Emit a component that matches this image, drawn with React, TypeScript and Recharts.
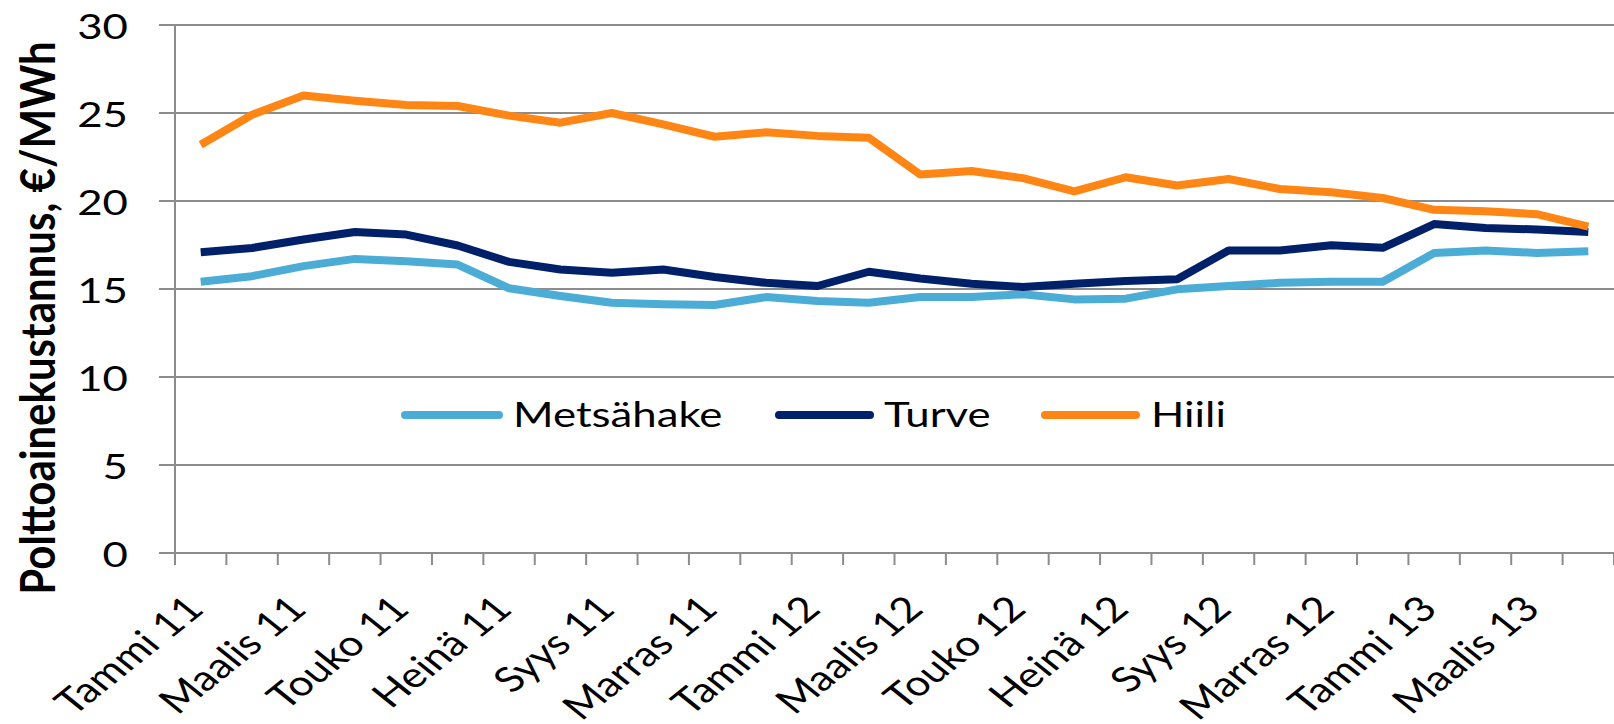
import React from 'react';
import { LineChart, Line, XAxis, YAxis, CartesianGrid, Legend } from 'recharts';

const months = [
  'Tammi 11', 'Helmi 11', 'Maalis 11', 'Huhti 11', 'Touko 11', 'Kesä 11',
  'Heinä 11', 'Elo 11', 'Syys 11', 'Loka 11', 'Marras 11', 'Joulu 11',
  'Tammi 12', 'Helmi 12', 'Maalis 12', 'Huhti 12', 'Touko 12', 'Kesä 12',
  'Heinä 12', 'Elo 12', 'Syys 12', 'Loka 12', 'Marras 12', 'Joulu 12',
  'Tammi 13', 'Helmi 13', 'Maalis 13', 'Huhti 13',
];

const metsahake = [
  15.41, 15.73, 16.3, 16.71, 16.58, 16.39, 15.04, 14.6, 14.22, 14.13, 14.09, 14.54,
  14.32, 14.22, 14.54, 14.54, 14.7, 14.41, 14.45, 14.98, 15.17, 15.35, 15.41, 15.41,
  17.05, 17.19, 17.05, 17.15,
];

const turve = [
  17.09, 17.33, 17.81, 18.24, 18.09, 17.47, 16.54, 16.11, 15.92, 16.11, 15.68, 15.35,
  15.17, 15.98, 15.6, 15.3, 15.11, 15.3, 15.45, 15.55, 17.19, 17.19, 17.49, 17.34,
  18.69, 18.47, 18.38, 18.24,
];

const hiili = [
  23.2, 24.9, 26.0, 25.7, 25.45, 25.4, 24.85, 24.45, 25.0, 24.35, 23.65, 23.9,
  23.7, 23.6, 21.5, 21.7, 21.3, 20.55, 21.35, 20.88, 21.25, 20.68, 20.5, 20.17,
  19.5, 19.42, 19.25, 18.55,
];

const yTicks = [0, 5, 10, 15, 20, 25, 30];
const yTitle = 'Polttoainekustannus, €/MWh';
const legendOrder = ['Metsähake', 'Turve', 'Hiili'];

const FONT = 'Lato, "Liberation Sans", sans-serif';
const SX = 1.25;
const GRID = '#8c8c8c';
const COLORS: Record<string, string> = { Metsähake: '#4BADD6', Turve: '#00206A', Hiili: '#FF8514' };

const data = months.map((m, i) => ({
  pos: i + 0.5,
  month: m,
  Metsähake: metsahake[i],
  Turve: turve[i],
  Hiili: hiili[i],
}));

const boundaryTicks = months.map((_, i) => i).concat([months.length]);
const labelTicks = months.map((_, i) => i + 0.5).filter((_, i) => i % 2 === 0);
const allXTicks = [...boundaryTicks, ...labelTicks].sort((a, b) => a - b);

const XTick = (props: any) => {
  const { x, y, payload } = props;
  const v = payload.value;
  if (Number.isInteger(v)) {
    return <line x1={x} y1={y} x2={x} y2={y + 12} stroke={GRID} strokeWidth={2} />;
  }
  const idx = Math.round(v - 0.5);
  return (
    <text
      transform={`translate(${x + 5},${y + 58}) scale(${SX},1) rotate(-45)`}
      textAnchor="end"
      fontFamily={FONT}
      fontSize={35}
      fill="#000"
    >
      {months[idx]}
    </text>
  );
};

const YTick = (props: any) => {
  const { x, y, payload } = props;
  return (
    <text
      transform={`translate(${x},${y + 14}) scale(${SX},1)`}
      textAnchor="end"
      fontFamily={FONT}
      fontSize={35}
      fill="#000"
    >
      {payload.value}
    </text>
  );
};

const YTitle = () => (
  <text
    transform={`translate(55,318) scale(1.15,1) rotate(-90)`}
    textAnchor="middle"
    fontFamily={FONT}
    fontWeight="bold"
    fontSize={42}
    fill="#000"
  >
    {yTitle}
  </text>
);

const legendLayout: Record<string, { line: number[]; text: number }> = {
  Metsähake: { line: [405, 499], text: 513 },
  Turve: { line: [779, 870], text: 884 },
  Hiili: { line: [1045, 1136], text: 1151 },
};

const renderLegend = (props: any) => {
  const payload = [...(props.payload || [])].sort(
    (a: any, b: any) => legendOrder.indexOf(a.value) - legendOrder.indexOf(b.value)
  );
  return (
    <svg width={1614} height={80} style={{ display: 'block' }}>
      {payload.map((p: any) => {
        const l = legendLayout[p.value];
        if (!l) return null;
        return (
          <g key={p.value}>
            <line
              x1={l.line[0]}
              x2={l.line[1]}
              y1={40}
              y2={40}
              stroke={p.color}
              strokeWidth={8}
              strokeLinecap="round"
            />
            <text
              transform={`translate(${l.text},52) scale(${SX},1)`}
              fontFamily={FONT}
              fontSize={35}
              fill="#000"
            >
              {p.value}
            </text>
          </g>
        );
      })}
    </svg>
  );
};

export default function App() {
  return (
    <div style={{ position: 'absolute', left: 0, top: 0, width: 1614, height: 724, background: '#fff' }}>
      <LineChart
        width={1614}
        height={724}
        data={data}
        margin={{ top: 25, right: 0, bottom: 0, left: 0 }}
      >
        <CartesianGrid vertical={false} stroke={GRID} strokeWidth={2} />
        <XAxis
          dataKey="pos"
          type="number"
          domain={[0, months.length]}
          ticks={allXTicks}
          interval={0}
          tickLine={false}
          tickSize={0}
          tickMargin={0}
          axisLine={{ stroke: GRID, strokeWidth: 2 }}
          tick={<XTick />}
          height={171}
          allowDecimals
        />
        <YAxis
          domain={[0, 30]}
          ticks={yTicks}
          interval={0}
          width={175}
          tickSize={16}
          tickMargin={31}
          tickLine={{ stroke: GRID, strokeWidth: 2 }}
          axisLine={{ stroke: GRID, strokeWidth: 2 }}
          tick={<YTick />}
          label={<YTitle />}
        />
        <Legend
          verticalAlign="middle"
          align="center"
          layout="horizontal"
          content={renderLegend}
          wrapperStyle={{ position: 'absolute', left: 0, top: 375, width: 1614, height: 80 }}
        />
        <Line type="linear" dataKey="Metsähake" stroke={COLORS['Metsähake']} strokeWidth={8} dot={false} strokeLinejoin="round" isAnimationActive={false} />
        <Line type="linear" dataKey="Turve" stroke={COLORS['Turve']} strokeWidth={8} dot={false} strokeLinejoin="round" isAnimationActive={false} />
        <Line type="linear" dataKey="Hiili" stroke={COLORS['Hiili']} strokeWidth={8} dot={false} strokeLinejoin="round" isAnimationActive={false} />
      </LineChart>
    </div>
  );
}
